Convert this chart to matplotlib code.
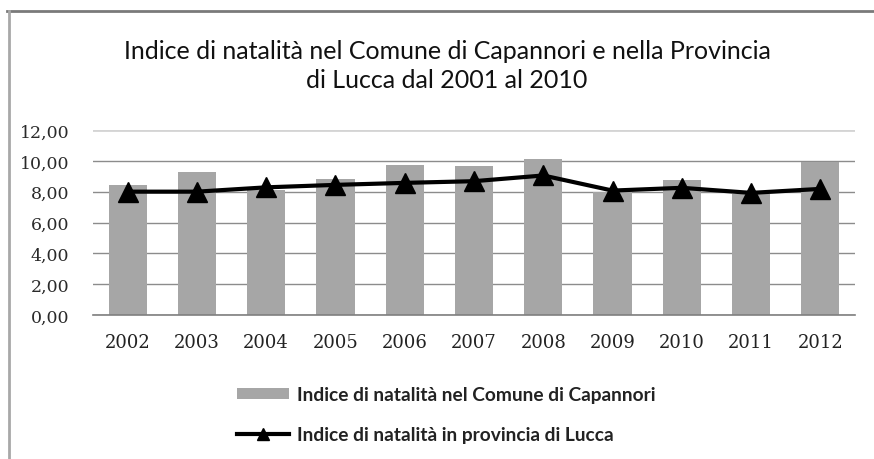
import numpy as np
import matplotlib.pyplot as plt
from matplotlib.lines import Line2D
from matplotlib.patches import Patch

anni = ['2002', '2003', '2004', '2005', '2006', '2007', '2008', '2009', '2010', '2011', '2012']
capannori = [8.45, 9.25, 8.10, 8.85, 9.75, 9.65, 10.10, 7.95, 8.75, 7.85, 9.95]
lucca = [8.00, 8.00, 8.28, 8.44, 8.57, 8.68, 9.05, 8.07, 8.25, 7.92, 8.18]
yticks = [0, 2, 4, 6, 8, 10, 12]
ylabels = ['0,00', '2,00', '4,00', '6,00', '8,00', '10,00', '12,00']

titolo = 'Indice di natalità nel Comune di Capannori e nella Provincia\ndi Lucca dal 2001 al 2010'
leg_bar = 'Indice di natalità nel Comune di Capannori'
leg_line = 'Indice di natalità in provincia di Lucca'

sans = ['Lato', 'DejaVu Sans']
serif = ['DejaVu Serif']

fig = plt.figure(figsize=(8.74, 4.6), dpi=100)
ax = fig.add_axes([93/874, 1-316/460, 762/874, 185/460])

x = np.arange(len(anni))
ax.bar(x, capannori, width=0.55, color='#a6a6a6', zorder=2)
ax.plot(x, lucca, color='black', lw=3, marker='^', ms=14, zorder=3)

ax.set_xlim(-0.5, len(anni) - 0.5)
ax.set_ylim(0, 12)
ax.set_yticks(yticks)
ax.set_yticklabels(ylabels, fontfamily=serif, fontsize=12.5, color='#2a2a2a')
ax.set_xticks(x)
ax.set_xticklabels(anni, fontfamily=serif, fontsize=13, color='#222222')
ax.tick_params(axis='both', length=0)
ax.tick_params(axis='x', pad=13)
ax.tick_params(axis='y', pad=17)
ax.yaxis.grid(True, color='#8c8c8c', lw=1, zorder=0)
ax.get_ygridlines()[-1].set_color('#d4d4d4')
ax.get_ygridlines()[-1].set_linewidth(2)
for s in ['top', 'right', 'left']:
    ax.spines[s].set_visible(False)
ax.spines['bottom'].set_color('#7f7f7f')
ax.spines['bottom'].set_linewidth(1.2)

fig.text(447/874, 1-66/460, titolo, ha='center', va='center', fontsize=18,
         fontfamily=sans, linespacing=1.3, color='#111111')

# legenda
handles = [Patch(facecolor='#a6a6a6', edgecolor='none'),
           Line2D([0], [0], color='black', lw=3, marker='^', ms=8)]
fig.legend(handles, [leg_bar, leg_line], loc='center left', bbox_to_anchor=(237/874, 1-416/460),
           frameon=False, prop={'family': sans, 'size': 13.8, 'weight': 'bold'},
           handlelength=2.7, handleheight=0.5, handletextpad=0.45, labelspacing=1.2,
           borderpad=0, borderaxespad=0)
for t in fig.legends[0].get_texts():
    t.set_color('#222222')

# cornice del grafico
fig.add_artist(Line2D([7/874, 873/874], [1-12/460, 1-12/460], color='#7a7a7a', lw=2))
fig.add_artist(Line2D([9/874, 9/874], [0, 1-12/460], color='#a8a8a8', lw=2))

fig.savefig('out.png', dpi=100)
